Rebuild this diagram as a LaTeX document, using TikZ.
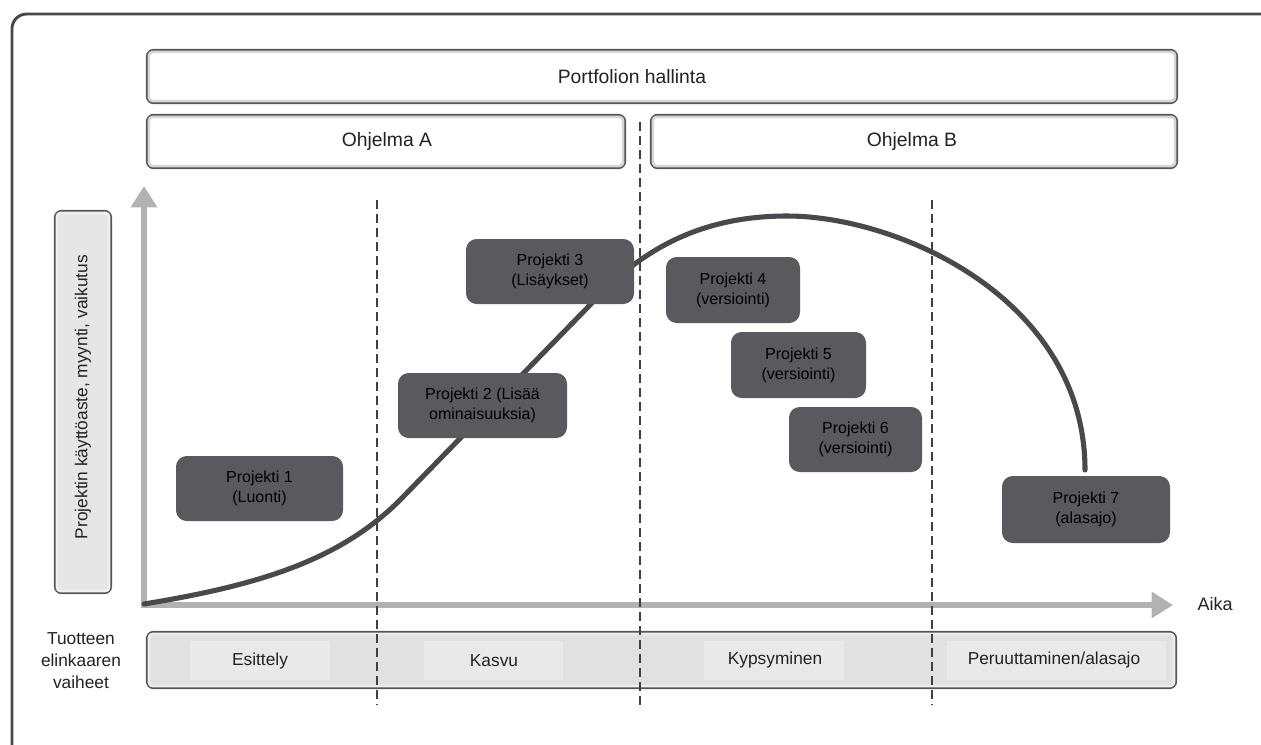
\documentclass[tikz,border=0pt]{standalone}
\usepackage{fontspec}
\setmainfont{Liberation Sans}
\usetikzlibrary{arrows.meta}
\definecolor{framec}{HTML}{48484C}
\definecolor{boxedge}{HTML}{55555A}
\definecolor{boxinner}{HTML}{D6D6D6}
\definecolor{darkbox}{HTML}{5A5A5E}
\definecolor{darktext}{HTML}{222222}
\definecolor{axisc}{HTML}{B2B2B2}
\definecolor{curvec}{HTML}{48484D}
\definecolor{dashc}{HTML}{404040}
\definecolor{barfill}{HTML}{E1E1E1}
\definecolor{barlight}{HTML}{E9E9E9}
\definecolor{lblfill}{HTML}{E6E6E6}
\begin{document}
\begin{tikzpicture}[x=0.75pt,y=-0.75pt,
  frameline/.style={draw=framec,line width=2.2pt,rounded corners=11pt},
  wbox/.style={draw=boxedge,line width=1.7pt,fill=white,rounded corners=5pt,inner sep=0pt,
    font=\fontsize{14.5}{17}\selectfont,text=darktext},
  innerline/.style={draw=boxinner,line width=2pt,rounded corners=3pt},
  pbox/.style={fill=darkbox,rounded corners=8pt,inner sep=0pt,align=center,
    font=\fontsize{12}{15}\selectfont,text=black},
  axisline/.style={draw=axisc,line width=3.8pt,-{Triangle[width=19pt,length=16pt]}},
  phasedash/.style={draw=dashc,line width=2.1pt,dash pattern=on 6.5pt off 4pt},
  lifecurve/.style={draw=curvec,line width=3.8pt,line cap=round,line join=round},
  lowtext/.style={font=\fontsize{13}{16.5}\selectfont,text=darktext,inner sep=0pt,align=center}
]
\useasboundingbox (0,0) rectangle (1261,744);
% outer frame
\draw[frameline] (12,14) rectangle (1330,800);

% top boxes
\node[wbox,minimum width=772.5pt,minimum height=39.75pt] (port) at (662,76.5) {};
\node[wbox,minimum width=358.5pt,minimum height=39.75pt] (oa) at (386,141.5) {};
\node[wbox,minimum width=394.5pt,minimum height=39.75pt] (ob) at (914,141.5) {};

% y label box
\node[wbox,fill=lblfill,minimum width=42pt,minimum height=286.5pt] (ylab) at (83,402) {};

% phase bar
\node[wbox,fill=barfill,minimum width=771.75pt,minimum height=42pt] (phase) at (661.5,660) {};
\foreach \n in {port,oa,ob} {
  \draw[innerline] ([shift={(3,3)}]\n.north west) rectangle ([shift={(-3,-3)}]\n.south east);
}
\draw[innerline,draw=white!88!gray] ([shift={(3,3)}]ylab.north west) rectangle ([shift={(-3,-3)}]ylab.south east);
\draw[innerline,draw=white!85!gray] ([shift={(3,3)}]phase.north west) rectangle ([shift={(-3,-3)}]phase.south east);
\fill[barlight] (190,641) rectangle (330,680);
\fill[barlight] (424,641) rectangle (563,680);
\fill[barlight] (704,641) rectangle (844,680);
\fill[barlight] (947,641) rectangle (1166,680);

% box labels
\node[font=\fontsize{14.5}{17}\selectfont,text=darktext] (portt) at (632,76.5) {Portfolion hallinta};
\node[font=\fontsize{14.5}{17}\selectfont,text=darktext] (oat) at (387,141.5) {Ohjelma A};
\node[font=\fontsize{14.5}{17}\selectfont,text=darktext] (obt) at (912,141.5) {Ohjelma B};
\node[rotate=90,font=\fontsize{13}{16}\selectfont,text=darktext,inner sep=0pt] (ylabt) at (83,397) {Projektin käyttöaste, myynti, vaikutus};
\node[lowtext] (ph1) at (260,661) {Esittely};
\node[lowtext] (ph2) at (494,661) {Kasvu};
\node[lowtext] (ph3) at (775,660) {Kypsyminen};
\node[lowtext] (ph4) at (1054,660) {Peruuttaminen/alasajo};

% left caption
\node[lowtext] (life) at (81,661) {Tuotteen\\elinkaaren\\vaiheet};

% axes
\coordinate (O) at (144,605);
\coordinate (ytip) at (144,186);
\coordinate (xtip) at (1173,605);
\draw[axisline] ([yshift=2]O) -- (ytip);
\draw[axisline] ([xshift=-2]O) -- (xtip);
\node[lowtext,font=\fontsize{13.5}{16}\selectfont] (aika) at (1215,604) {Aika};

% dashed phase separators
\coordinate (d1t) at (377,200); \coordinate (d1b) at (377,705);
\coordinate (d2t) at (640,122); \coordinate (d2b) at (640,705);
\coordinate (d3t) at (932,200); \coordinate (d3b) at (932,705);
\draw[phasedash] (d1t) -- (d1b);
\draw[phasedash] (d2t) -- (d2b);
\draw[phasedash] (d3t) -- (d3b);

% life-cycle curve
\coordinate (c0) at (144,604);
\coordinate (c1) at (400,500);
\coordinate (c2) at (590,305);
\coordinate (c3) at (787,216);
\coordinate (c4) at (1085,470);
\draw[lifecurve] (c0) .. controls (260,585) and (340,560) .. (c1)
  -- (c2) .. controls (640,250) and (700,216) .. (c3)
  .. controls (900,216) and (1085,300) .. (c4);

% projects
\node[pbox,minimum width=125.25pt,minimum height=48.75pt] (p1) at (259.5,488.5) {Projekti 1\\(Luonti)};
\node[pbox,minimum width=126.75pt,minimum height=48.75pt] (p2) at (482.5,405.5) {Projekti 2 (Lisää\\ominaisuuksia)};
\node[pbox,minimum width=126pt,minimum height=48.75pt] (p3) at (550,271.5) {Projekti 3\\(Lisäykset)};
\node[pbox,minimum width=100.5pt,minimum height=49.5pt] (p4) at (733,290) {Projekti 4\\(versiointi)};
\node[pbox,minimum width=101.25pt,minimum height=49.5pt] (p5) at (798.5,365) {Projekti 5\\(versiointi)};
\node[pbox,minimum width=99.75pt,minimum height=48.75pt] (p6) at (855.5,439.5) {Projekti 6\\(versiointi)};
\node[pbox,minimum width=126pt,minimum height=50.25pt] (p7) at (1086,509.5) {Projekti 7\\(alasajo)};
\end{tikzpicture}
\end{document}
